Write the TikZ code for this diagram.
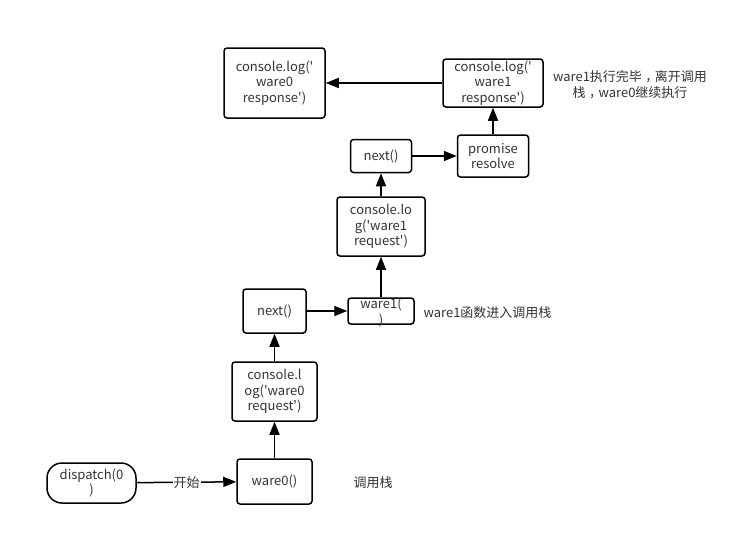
\documentclass[tikz,border=0pt]{standalone}
\usepackage{fontspec}
\setmainfont{Noto Sans CJK SC}
\usetikzlibrary{arrows.meta}
\definecolor{txtgray}{HTML}{333333}
\newcommand\sq{\textquotesingle}
\newcommand\zhcomma{\kern3.5pt，\kern-3.5pt}

\begin{document}
\begin{tikzpicture}[x=1pt,y=-1pt,->,>={Triangle[length=13pt,width=10pt]},
            line width=1.5pt,
            box/.style={draw,rounded corners=3pt,align=center,inner sep=0pt,
              text=txtgray,font=\fontsize{13}{15.5}\selectfont},
            note/.style={align=center,inner sep=0pt,text=txtgray,
              font=\fontsize{13}{15.5}\selectfont}]
          \useasboundingbox (0,0) rectangle (743,536);

          \node[box,rounded corners=15pt,minimum width=89,minimum height=40] (D)  at ( 91.5, 483) {dispatch(0\\)};
          \node[box,minimum width=75, minimum height=45] (W0) at (274.5, 481.5) {ware0()};
          \node[box,minimum width=85, minimum height=59] (R0) at (274.5, 391.5) {console.l\\og(\sq ware0\\request\sq)};
          \node[box,minimum width=63, minimum height=44] (N0) at (274.5, 311) {next()};
          \node[box,minimum width=66, minimum height=26] (W1) at (381, 311) {};
          \node[note,font=\fontsize{13}{16.5}\selectfont] (W1t) at (381, 312.5) {ware1(\\)};
          \node[box,minimum width=88, minimum height=59] (Q1) at (381, 226.5) {console.lo\\g(\sq ware1\\request\sq)};
          \node[box,minimum width=61, minimum height=33] (N1) at (381, 156) {next()};
          \node[box,minimum width=71, minimum height=42] (P)  at (493, 156) {promise\\resolve};
          \node[box,minimum width=100,minimum height=48] (S1) at (493, 83) {console.log(\sq\\ware1\\response\sq)};
          \node[box,minimum width=101,minimum height=70] (S0) at (274.5, 83) {console.log(\sq\\ware0\\response\sq)};

          \node[note] (stack) at (373, 483) {调用栈};
          \node[note] (enter) at (487.5, 313) {ware1函数进入调用栈};
          \node[note] (leave) at (630, 84.5) {ware1执行完毕\zhcomma 离开调用\\栈\zhcomma ware0继续执行};

          \path (D)  edge node[note,fill=white,inner sep=1pt] {开始} (W0)
                (W0) edge (R0)
                (R0) edge (N0)
                (N0) edge (W1)
                (W1) edge (Q1)
                (Q1) edge (N1)
                (N1) edge (P)
                (P)  edge (S1)
                (S1) edge (S0);
        \end{tikzpicture}
\end{document}
